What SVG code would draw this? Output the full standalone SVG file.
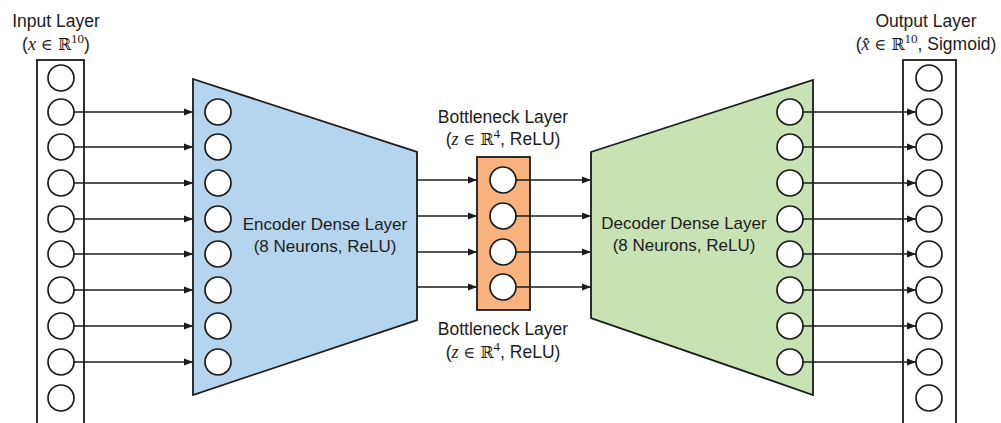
<svg xmlns="http://www.w3.org/2000/svg" width="1001" height="423" viewBox="0 0 1001 423">
  <style>
    .box { fill: #ffffff; stroke: #1a1a1a; stroke-width: 1.8; }
    .neuron { fill: #ffffff; stroke: #1a1a1a; stroke-width: 1.7; }
    .enc { fill: #b5d4ee; stroke: #1a1a1a; stroke-width: 1.8; }
    .dec { fill: #c9e2b3; stroke: #1a1a1a; stroke-width: 1.8; }
    .bot { fill: #f8b27e; stroke: #1a1a1a; stroke-width: 1.8; }
    .lbl { font-family: "Liberation Sans", Arial, sans-serif; font-size: 17.5px; fill: #1c1c1c; text-anchor: middle; }
    .mid { font-size: 17px; }
    .mi { font-family: "Liberation Serif", "DejaVu Serif", serif; font-style: italic; font-size: 18px; }
    .ms { font-family: "DejaVu Serif", serif; font-size: 16px; }
    .sup { font-family: "Liberation Serif", "DejaVu Serif", serif; font-size: 13px; }
    .conn { stroke: #1a1a1a; stroke-width: 1.7; fill: none; marker-end: url(#arrow); }
  </style>
  <defs>
    <marker id="arrow" markerUnits="userSpaceOnUse" markerWidth="10" markerHeight="8" refX="9" refY="4" orient="auto">
      <path d="M0,0.5 L9,4 L0,7.5 z" fill="#1a1a1a"/>
    </marker>
  </defs>
  <rect x="0" y="0" width="1001" height="423" fill="#ffffff"/>

  <g id="input-layer">
    <rect class="box" x="37" y="60" width="47" height="380"/>
    <circle class="neuron" cx="61" cy="78" r="13"/>
    <circle class="neuron" cx="61" cy="112" r="13"/>
    <circle class="neuron" cx="61" cy="147" r="13"/>
    <circle class="neuron" cx="61" cy="183" r="13"/>
    <circle class="neuron" cx="61" cy="219" r="13"/>
    <circle class="neuron" cx="61" cy="254" r="13"/>
    <circle class="neuron" cx="61" cy="290" r="13"/>
    <circle class="neuron" cx="61" cy="326" r="13"/>
    <circle class="neuron" cx="61" cy="362" r="13"/>
    <circle class="neuron" cx="61" cy="398" r="13"/>
    <text class="lbl" x="56" y="27">Input Layer</text>
    <text class="lbl" x="56" y="50">(<tspan class="mi">x</tspan> <tspan class="ms">∈ ℝ</tspan><tspan class="sup" dy="-7">10</tspan><tspan dy="7">)</tspan></text>
  </g>

  <g id="encoder-layer">
    <polygon class="enc" points="193,79 417,152 417,320 193,395"/>
    <circle class="neuron" cx="218" cy="112" r="13"/>
    <circle class="neuron" cx="218" cy="147" r="13"/>
    <circle class="neuron" cx="218" cy="183" r="13"/>
    <circle class="neuron" cx="218" cy="219" r="13"/>
    <circle class="neuron" cx="218" cy="254" r="13"/>
    <circle class="neuron" cx="218" cy="290" r="13"/>
    <circle class="neuron" cx="218" cy="326" r="13"/>
    <circle class="neuron" cx="218" cy="362" r="13"/>
    <text class="lbl mid" x="325" y="230">Encoder Dense Layer</text>
    <text class="lbl mid" x="325" y="252">(8 Neurons, ReLU)</text>
  </g>

  <g id="bottleneck-layer">
    <rect class="bot" x="477" y="157" width="53" height="153"/>
    <circle class="neuron" cx="503" cy="180" r="13"/>
    <circle class="neuron" cx="503" cy="216" r="13"/>
    <circle class="neuron" cx="503" cy="252" r="13"/>
    <circle class="neuron" cx="503" cy="287" r="13"/>
    <text class="lbl" x="503" y="123">Bottleneck Layer</text>
    <text class="lbl" x="503" y="145">(<tspan class="mi">z</tspan> <tspan class="ms">∈ ℝ</tspan><tspan class="sup" dy="-7">4</tspan><tspan dy="7">, ReLU)</tspan></text>
    <text class="lbl" x="503" y="335">Bottleneck Layer</text>
    <text class="lbl" x="503" y="358">(<tspan class="mi">z</tspan> <tspan class="ms">∈ ℝ</tspan><tspan class="sup" dy="-7">4</tspan><tspan dy="7">, ReLU)</tspan></text>
  </g>

  <g id="decoder-layer">
    <polygon class="dec" points="591,152 813,80 813,395 591,318"/>
    <circle class="neuron" cx="790" cy="112" r="13"/>
    <circle class="neuron" cx="790" cy="147" r="13"/>
    <circle class="neuron" cx="790" cy="183" r="13"/>
    <circle class="neuron" cx="790" cy="219" r="13"/>
    <circle class="neuron" cx="790" cy="254" r="13"/>
    <circle class="neuron" cx="790" cy="290" r="13"/>
    <circle class="neuron" cx="790" cy="326" r="13"/>
    <circle class="neuron" cx="790" cy="362" r="13"/>
    <text class="lbl mid" x="684" y="229">Decoder Dense Layer</text>
    <text class="lbl mid" x="684" y="251">(8 Neurons, ReLU)</text>
  </g>

  <g id="output-layer">
    <rect class="box" x="903" y="60" width="53" height="380"/>
    <circle class="neuron" cx="929" cy="78" r="13"/>
    <circle class="neuron" cx="929" cy="112" r="13"/>
    <circle class="neuron" cx="929" cy="147" r="13"/>
    <circle class="neuron" cx="929" cy="183" r="13"/>
    <circle class="neuron" cx="929" cy="219" r="13"/>
    <circle class="neuron" cx="929" cy="254" r="13"/>
    <circle class="neuron" cx="929" cy="290" r="13"/>
    <circle class="neuron" cx="929" cy="326" r="13"/>
    <circle class="neuron" cx="929" cy="362" r="13"/>
    <circle class="neuron" cx="929" cy="398" r="13"/>
    <text class="lbl" x="926" y="27">Output Layer</text>
    <text class="lbl" x="926" y="50">(<tspan class="mi">x̂</tspan> <tspan class="ms">∈ ℝ</tspan><tspan class="sup" dy="-7">10</tspan><tspan dy="7">, Sigmoid)</tspan></text>
  </g>

  <g id="connectors">
    <line class="conn" x1="74" y1="112" x2="193" y2="112"/>
    <line class="conn" x1="74" y1="147" x2="193" y2="147"/>
    <line class="conn" x1="74" y1="183" x2="193" y2="183"/>
    <line class="conn" x1="74" y1="219" x2="193" y2="219"/>
    <line class="conn" x1="74" y1="254" x2="193" y2="254"/>
    <line class="conn" x1="74" y1="290" x2="193" y2="290"/>
    <line class="conn" x1="74" y1="326" x2="193" y2="326"/>
    <line class="conn" x1="74" y1="362" x2="193" y2="362"/>

    <line class="conn" x1="417" y1="180" x2="477" y2="180"/>
    <line class="conn" x1="417" y1="216" x2="477" y2="216"/>
    <line class="conn" x1="417" y1="252" x2="477" y2="252"/>
    <line class="conn" x1="417" y1="287" x2="477" y2="287"/>

    <line class="conn" x1="516" y1="180" x2="591" y2="180"/>
    <line class="conn" x1="516" y1="216" x2="591" y2="216"/>
    <line class="conn" x1="516" y1="252" x2="591" y2="252"/>
    <line class="conn" x1="516" y1="287" x2="591" y2="287"/>

    <line class="conn" x1="803" y1="112" x2="916" y2="112"/>
    <line class="conn" x1="803" y1="147" x2="916" y2="147"/>
    <line class="conn" x1="803" y1="183" x2="916" y2="183"/>
    <line class="conn" x1="803" y1="219" x2="916" y2="219"/>
    <line class="conn" x1="803" y1="254" x2="916" y2="254"/>
    <line class="conn" x1="803" y1="290" x2="916" y2="290"/>
    <line class="conn" x1="803" y1="326" x2="916" y2="326"/>
    <line class="conn" x1="803" y1="362" x2="916" y2="362"/>
  </g>
</svg>
